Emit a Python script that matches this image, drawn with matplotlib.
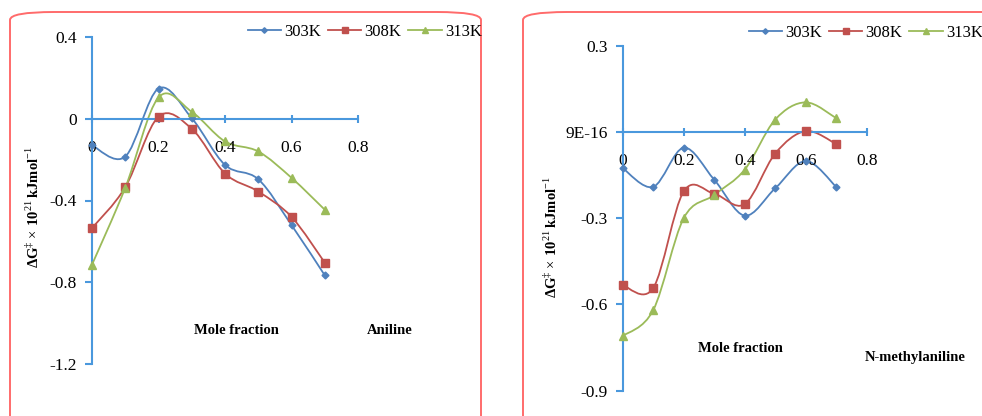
import numpy as np
import matplotlib
matplotlib.use("Agg")
from matplotlib import pyplot as plt
from matplotlib.path import Path
from matplotlib.patches import PathPatch, FancyBboxPatch
from matplotlib.lines import Line2D

plt.rcParams["font.family"] = ["Liberation Serif", "DejaVu Serif"]
plt.rcParams["mathtext.fontset"] = "custom"
plt.rcParams["mathtext.rm"] = "Liberation Serif"
plt.rcParams["mathtext.bf"] = "Liberation Serif:bold"

mole_fraction = [0.0, 0.1, 0.2, 0.3, 0.4, 0.5, 0.6, 0.7]

# Aniline
aniline_303 = [-0.13, -0.185, 0.148, 0.003, -0.226, -0.296, -0.52, -0.766]
aniline_308 = [-0.535, -0.335, 0.01, -0.049, -0.268, -0.356, -0.48, -0.704]
aniline_313 = [-0.714, -0.338, 0.104, 0.034, -0.111, -0.16, -0.289, -0.445]

# N-methylaniline
nma_303 = [-0.126, -0.191, -0.055, -0.166, -0.291, -0.196, -0.101, -0.191]
nma_308 = [-0.533, -0.543, -0.207, -0.215, -0.251, -0.075, 0.003, -0.042]
nma_313 = [-0.71, -0.62, -0.30, -0.219, -0.131, 0.043, 0.103, 0.048]

series_names = ["303K", "308K", "313K"]
colors = ["#4F81BD", "#C0504D", "#9BBB59"]
markers = ["D", "s", "^"]
msizes = [3.5, 6, 5.5]

left_yticks = [-1.2, -0.8, -0.4, 0, 0.4]
left_yticklabels = ["-1.2", "-0.8", "-0.4", "0", "0.4"]
right_yticks = [-0.9, -0.6, -0.3, 0, 0.3]
right_yticklabels = ["-0.9", "-0.6", "-0.3", "9E-16", "0.3"]
xticks = [0, 0.2, 0.4, 0.6, 0.8]
xticklabels = ["0", "0.2", "0.4", "0.6", "0.8"]

axis_blue = "#4a98dd"
frame_red = "#ff6b6b"
ylabel = r"$\mathbf{\Delta G}^{\ddag}\times\,\mathbf{10}^{21}\,\mathbf{kJmol}^{-1}$"


def smooth_path(x, y):
    # excel-style smoothed line as cubic bezier segments
    p = np.column_stack([x, y])
    n = len(p)
    verts = [p[0]]
    codes = [Path.MOVETO]
    for i in range(n - 1):
        p_prev = p[max(i - 1, 0)]
        p_next2 = p[min(i + 2, n - 1)]
        c1 = p[i] + (p[i + 1] - p_prev) / 6
        c2 = p[i + 1] - (p_next2 - p[i]) / 6
        verts += [c1, c2, p[i + 1]]
        codes += [Path.CURVE4] * 3
    return Path(verts, codes)


fig = plt.figure(figsize=(9.82, 4.16), dpi=100)

# rounded frames (right one runs off the edge of the picture)
for x0, w in [(10 / 982, 471 / 982), (523 / 982, 520 / 982)]:
    fig.patches.append(FancyBboxPatch((x0, -0.1), w, 1 - 12 / 416 + 0.1,
                                      boxstyle="round,pad=0,rounding_size=0.045",
                                      transform=fig.transFigure, fill=False,
                                      ec=frame_red, lw=1.4, mutation_aspect=416 / 982))


def make_panel(rect, data, yticks, yticklabels, ylim, ylab_xy, texts, legend_anchor):
    ax = fig.add_axes(rect)
    for vals, c, m, ms in zip(data, colors, markers, msizes):
        ax.add_patch(PathPatch(smooth_path(mole_fraction, vals), fill=False,
                               ec=c, lw=1.3, clip_on=False))
        ax.plot(mole_fraction, vals, linestyle="none", marker=m, ms=ms,
                color=c, clip_on=False, zorder=3)
    ax.set_xlim(0, 0.8)
    ax.set_ylim(*ylim)
    for s in ["top", "right"]:
        ax.spines[s].set_visible(False)
    ax.spines["bottom"].set_position(("data", 0))
    for s in ["left", "bottom"]:
        ax.spines[s].set_color(axis_blue)
        ax.spines[s].set_linewidth(1.5)
    ax.set_xticks(xticks)
    ax.set_xticklabels(xticklabels)
    ax.set_yticks(yticks)
    ax.set_yticklabels(yticklabels)
    ax.tick_params(axis="y", direction="out", length=5, width=1.5, color=axis_blue,
                   labelsize=12.5, pad=6)
    ax.tick_params(axis="x", direction="inout", length=6, width=1.5, color=axis_blue,
                   labelsize=12.5, pad=12)
    ax.patch.set_visible(False)
    fig.text(ylab_xy[0], ylab_xy[1], ylabel, rotation=90, ha="center", va="center",
             fontsize=10.5)
    for (tx, ty, s) in texts:
        fig.text(tx, ty, s, ha="center", va="center", fontsize=10.5, fontweight="bold")
    handles = [Line2D([], [], color=c, marker=m, ms=ms * 0.8, lw=1.3)
               for c, m, ms in zip(colors, markers, msizes)]
    fig.legend(handles, series_names, loc="center right", bbox_to_anchor=legend_anchor,
               ncol=3, frameon=False, fontsize=12, handlelength=2.0, handletextpad=0.2,
               columnspacing=0.4, borderaxespad=0, borderpad=0)
    return ax


make_panel([92 / 982, 1 - 364 / 416, 266 / 982, 327 / 416],
           [aniline_303, aniline_308, aniline_313],
           left_yticks, left_yticklabels, (-1.2, 0.4), (33 / 982, 1 - 207 / 416),
           [(236 / 982, 1 - 330 / 416, "Mole fraction"),
            (390 / 982, 1 - 331 / 416, "Aniline")],
           (482 / 982, 1 - 32 / 416))

make_panel([622.7 / 982, 1 - 390.7 / 416, 244 / 982, 345 / 416],
           [nma_303, nma_308, nma_313],
           right_yticks, right_yticklabels, (-0.9, 0.3), (551 / 982, 1 - 237 / 416),
           [(740 / 982, 1 - 349 / 416, "Mole fraction"),
            (915 / 982, 1 - 357 / 416, "N-methylaniline")],
           (983 / 982, 1 - 33 / 416))

fig.savefig("out.png", dpi=100)
